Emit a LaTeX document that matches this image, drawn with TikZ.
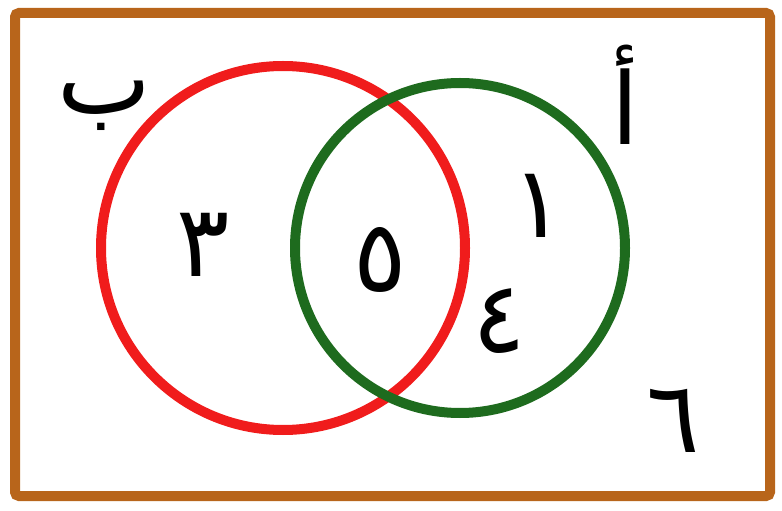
\documentclass[tikz,border=0pt]{standalone}
\usepackage{fontspec}
\TeXXeTstate=1
\newfontfamily\arabicfont[Script=Arabic]{DejaVu Sans}
\definecolor{framebrown}{RGB}{184,101,27}
\definecolor{setred}{RGB}{240,28,28}
\definecolor{setgreen}{RGB}{30,107,30}
\begin{document}
\begin{tikzpicture}[x=1bp,y=-1bp,
  lbl/.style={font=\arabicfont\fontsize{100}{100}\selectfont, inner sep=0pt, text=black},
  setline/.style={line width=10bp}]
\useasboundingbox (0,0) rectangle (782,511);
\draw[framebrown, line width=10bp, rounded corners=4bp] (15,13) rectangle (770,496);
\draw[setline, setred] (283,248) circle[radius=182];
\draw[setline, setgreen] (460,248) circle[radius=165];
\node[lbl] (labB) at (104,106) {\beginR ب\endR};
\node[lbl] (labA) at (625,95) {\beginR أ\endR};
\node[lbl] (n3) at (203,245) {٣};
\node[lbl] (n5) at (380,260) {٥};
\node[lbl] (n1) at (538,206) {١};
\node[lbl] (n4) at (499,321) {٤};
\node[lbl] (n6) at (673,421) {٦};
\end{tikzpicture}
\end{document}
